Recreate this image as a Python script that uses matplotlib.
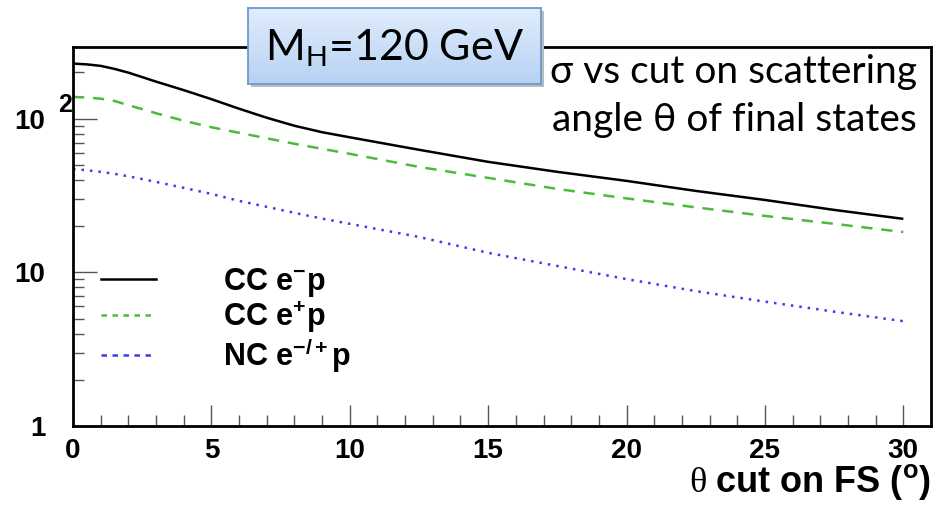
import numpy as np
import matplotlib
matplotlib.use("Agg")
import matplotlib.pyplot as plt
from matplotlib.lines import Line2D
from matplotlib.patches import Rectangle

plt.rcParams["mathtext.fontset"] = "custom"
plt.rcParams["mathtext.rm"] = "Liberation Sans"
plt.rcParams["mathtext.bf"] = "Liberation Sans:bold"
plt.rcParams["mathtext.it"] = "Liberation Sans:italic"

# scattering-angle cut (degrees) and cross sections (fb)
theta_cut = [0, 0.5, 1, 1.5, 2, 2.5, 3, 4, 5, 6, 7, 8, 9, 10, 12.5, 15, 17.5, 20, 22.5, 25, 27.5, 30]
sigma_cc_em = [228.5, 225.8, 220.8, 211.0, 199.5, 186.6, 174.4, 153.5, 134.1, 116.2, 101.5, 90.0,
               81.7, 75.7, 62.8, 52.4, 45.1, 39.4, 33.9, 29.6, 25.5, 22.3]
sigma_cc_ep = [138.6, 137.5, 135.0, 130.5, 122.5, 115.5, 108.6, 97.0, 88.0, 81.0, 74.6, 68.7,
               63.7, 59.1, 48.6, 41.2, 34.9, 30.3, 26.5, 23.3, 20.7, 18.3]
sigma_nc = [47.0, 46.2, 45.1, 43.8, 42.2, 40.5, 38.8, 35.5, 32.4, 29.2, 26.7, 24.4,
            22.4, 20.7, 17.0, 13.4, 11.0, 9.04, 7.55, 6.45, 5.55, 4.81]

legend_labels = [r"$\mathbf{CC\ e^{-}p}$", r"$\mathbf{CC\ e^{+}p}$", r"$\mathbf{NC\ e^{-/+}p}$"]

W, H = 949, 505
fig = plt.figure(figsize=(W / 100, H / 100), dpi=100)
ax = fig.add_axes([73 / W, 1 - 426 / H, (931 - 73) / W, (426 - 47) / H])

green = "#4cbb3c"
blue = "#3a3cf0"
ax.plot(theta_cut, sigma_cc_em, color="black", lw=1.8, solid_capstyle="butt")
ax.plot(theta_cut, sigma_cc_ep, color=green, lw=1.8, dashes=(4.5, 3.5))
ax.plot(theta_cut, sigma_nc, color=blue, lw=1.8, dashes=(1.0, 2.4))

ax.set_yscale("log")
ax.set_xlim(0, 31)
ax.set_ylim(1, 293)

for s in ax.spines.values():
    s.set_linewidth(2.0)

ax.set_xticks([0, 5, 10, 15, 20, 25, 30])
ax.set_xticks(np.arange(0, 31, 1), minor=True)
ax.set_yticks([1, 10, 100])
ax.set_yticklabels(["1", "10", "10"])
ax.tick_params(which="both", direction="in", top=False, right=False, color="#555555", width=1.0)
ax.tick_params(axis="x", which="major", length=15, pad=9)
ax.tick_params(axis="x", which="minor", length=8)
ax.tick_params(axis="y", which="major", length=17, pad=20)
ax.tick_params(axis="y", which="minor", length=8)
for lab in ax.get_xticklabels() + ax.get_yticklabels():
    lab.set_fontfamily("Liberation Sans")
    lab.set_fontweight("bold")
    lab.set_fontsize(20)

# exponent of the 10^2 label
ax.annotate("2", xy=(0, 100), xycoords=("axes fraction", "data"),
            xytext=(-15, 14), textcoords="offset pixels", ha="left", va="center",
            fontsize=18, fontweight="bold", family="Liberation Sans")

fig.text(931 / W, 1 - 482 / H, r"θ $\mathbf{cut\ on\ FS\ (^{o})}$",
         ha="right", va="center", fontsize=26, family="Liberation Serif")

handles = [Line2D([], [], color="black", lw=1.8),
           Line2D([], [], color=green, lw=1.8, dashes=(2.2, 2.2)),
           Line2D([], [], color=blue, lw=1.8, dashes=(2.2, 2.2))]
leg = ax.legend(handles, legend_labels, loc="upper left", bbox_to_anchor=(28 / 858, 1 - 219 / 379),
                frameon=False, fontsize=22, handlelength=1.8, handletextpad=2.2,
                labelspacing=0.02, borderaxespad=0, borderpad=0)

# annotation text on the right
fig.text(917 / W, 1 - 96 / H, "σ vs cut on scattering\nangle θ of final states",
         ha="right", va="center", fontsize=28, family="Lato", linespacing=1.38)

# Higgs-mass box with a soft gradient fill
bx0, by0, bx1, by1 = 248, 8, 541, 84
shadow = Rectangle(((bx0 + 3) / W, 1 - (by1 + 3) / H), (bx1 - bx0) / W, (by1 - by0) / H,
                   transform=fig.transFigure, facecolor="#bbbbbb", edgecolor="none", zorder=5)
fig.patches.append(shadow)
box_ax = fig.add_axes([bx0 / W, 1 - by1 / H, (bx1 - bx0) / W, (by1 - by0) / H], zorder=6)
grad = np.linspace(0, 1, 64).reshape(-1, 1)
top_c = np.array([0.88, 0.93, 0.99])
bot_c = np.array([0.72, 0.82, 0.95])
img = top_c + (bot_c - top_c) * grad[:, :, None]
box_ax.imshow(img, aspect="auto", extent=(0, 1, 0, 1), origin="upper")
box_ax.set_xticks([])
box_ax.set_yticks([])
for s in box_ax.spines.values():
    s.set_color("#6d98cf")
    s.set_linewidth(1.3)
box_ax.text(0.5, 0.47, r"M$_{\mathrm{H}}$=120 GeV", ha="center", va="center",
            fontsize=31, family="Lato", transform=box_ax.transAxes)

fig.savefig("out.png", dpi=100)
